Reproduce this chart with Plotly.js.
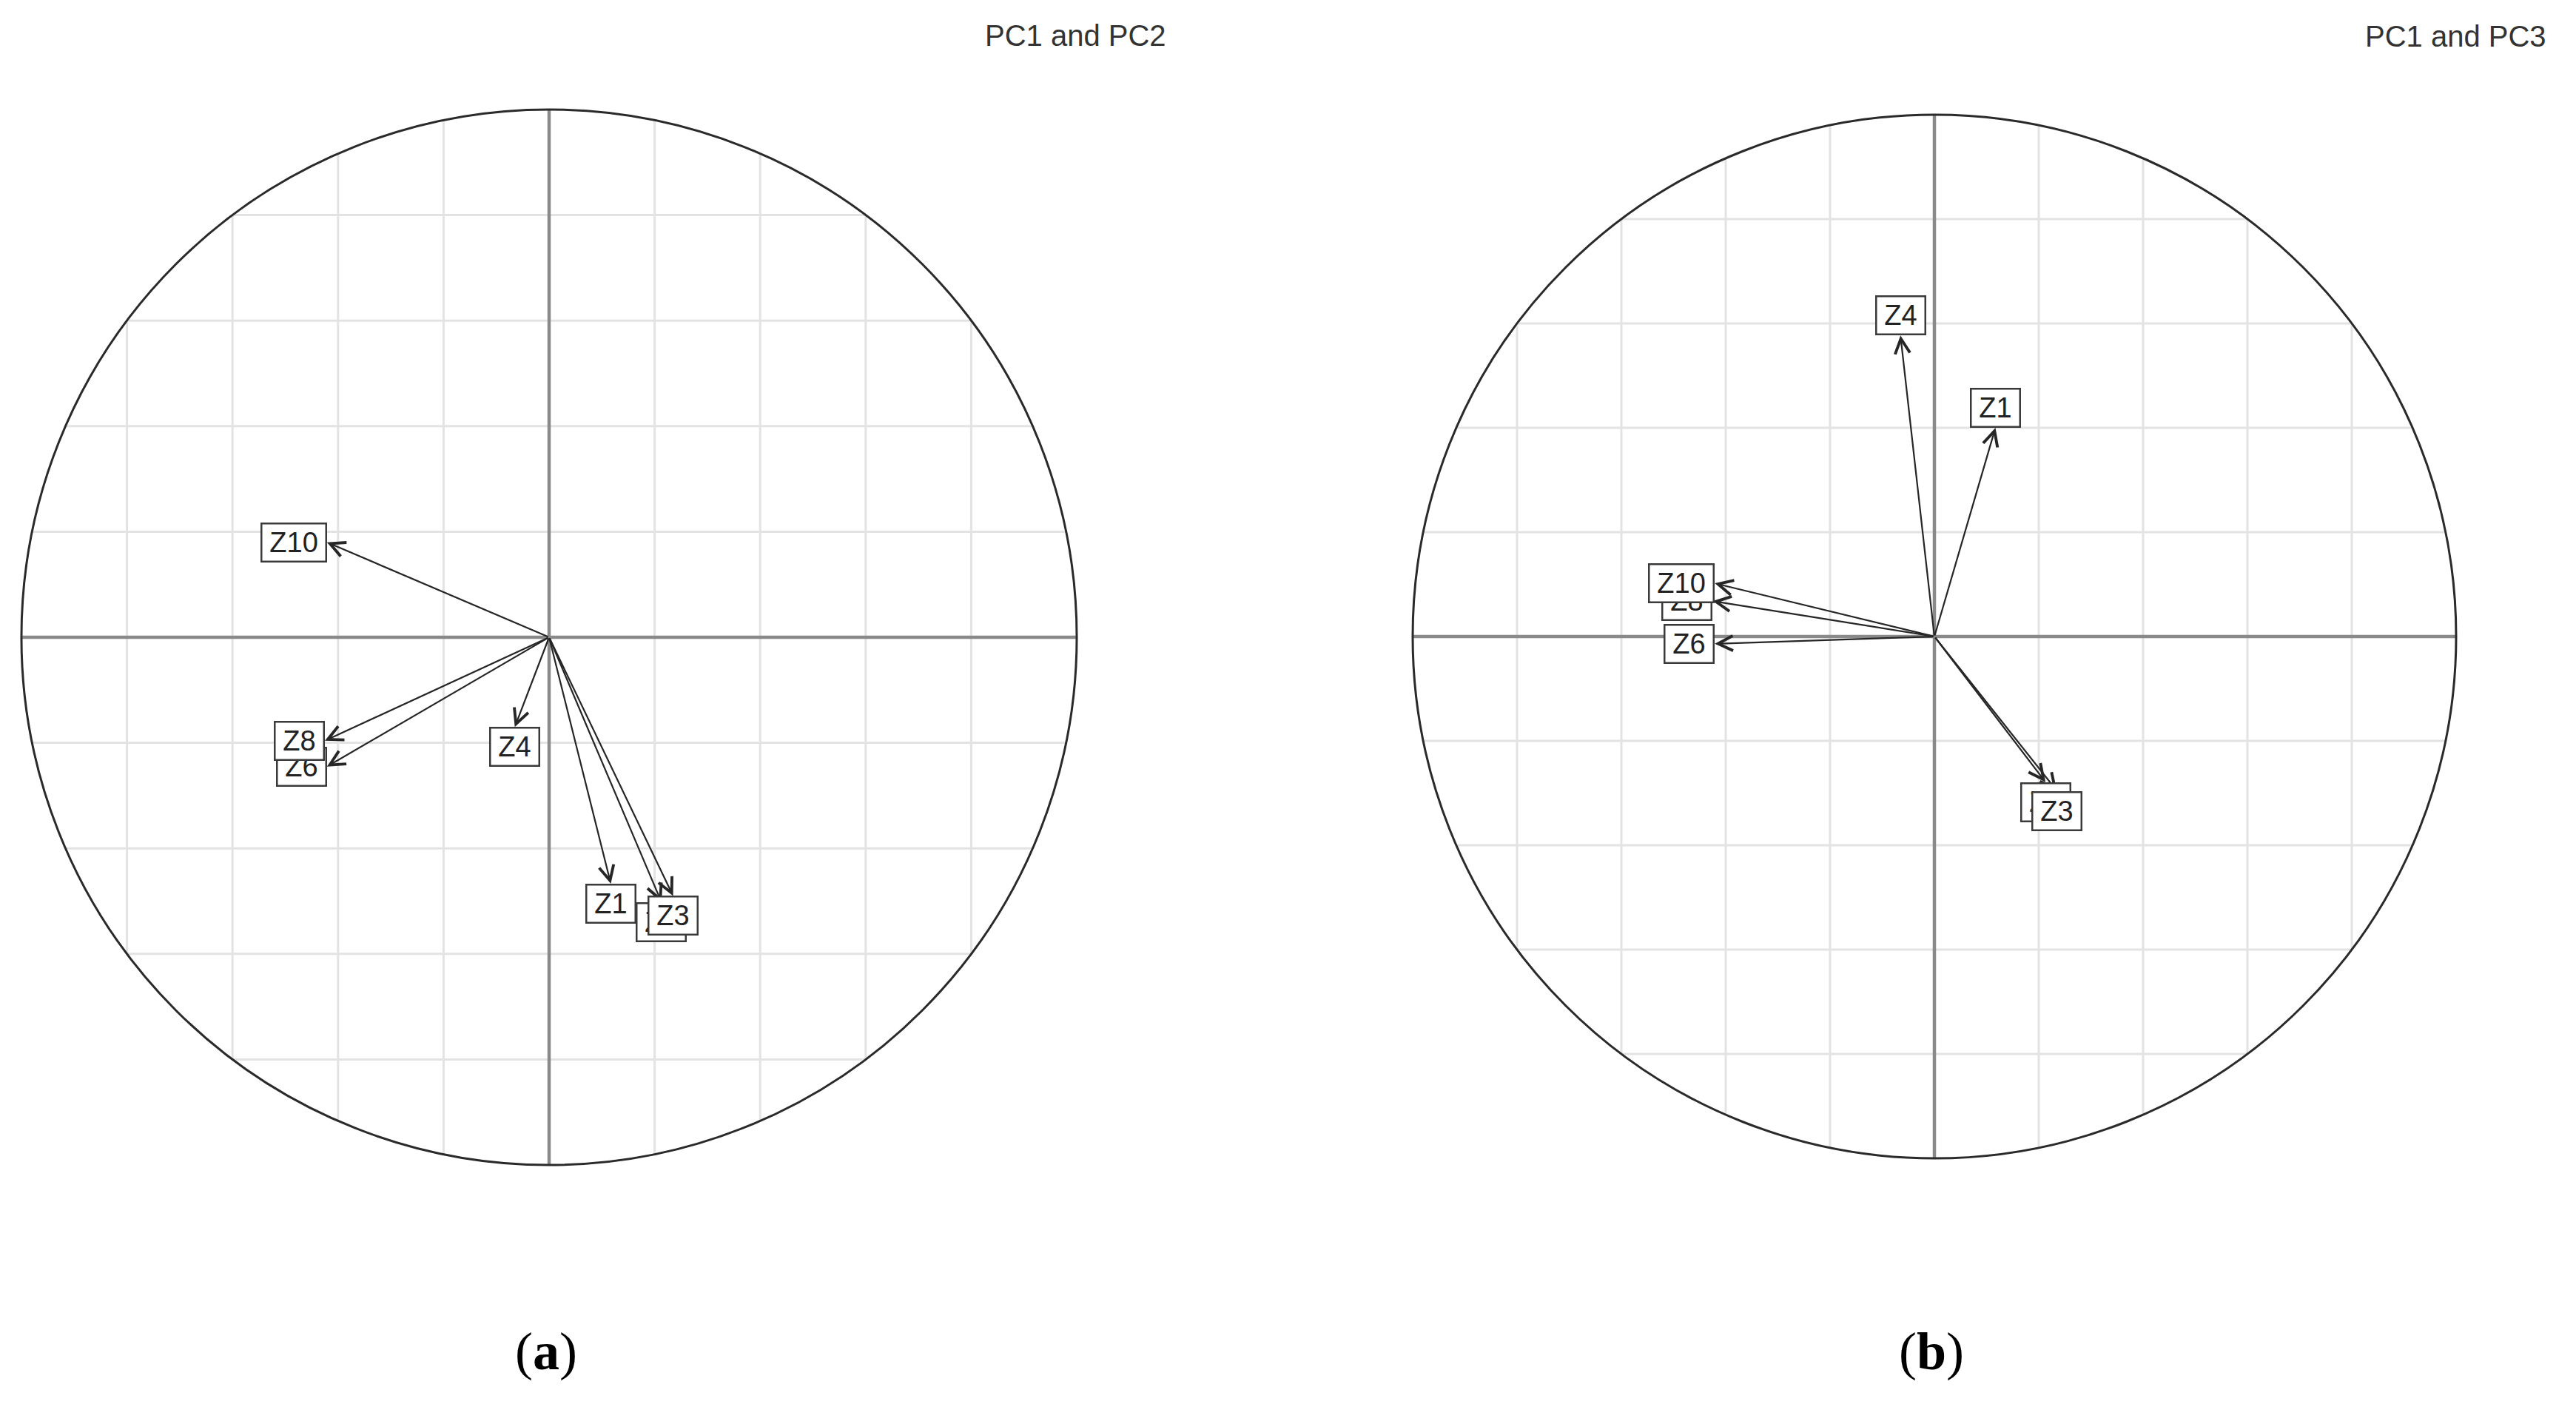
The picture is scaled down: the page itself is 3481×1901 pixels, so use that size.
<!DOCTYPE html>
<html><head><meta charset="utf-8">
<script src="https://cdn.plot.ly/plotly-3.0.1.min.js"></script>
<style>html,body{margin:0;padding:0;background:#fff;} #chart{width:3481px;height:1901px;}</style>
</head><body><div id="chart"></div>
<script>
// ---- data ----
const variables = ['Z1', 'Z2', 'Z3', 'Z4', 'Z6', 'Z8', 'Z10'];
const pc1 = [0.117, 0.213, 0.235, -0.065, -0.421, -0.425, -0.421];
const pc2 = [-0.467, -0.502, -0.490, -0.170, -0.245, -0.196, 0.180];
const pc3 = [0.400, -0.279, -0.296, 0.577, -0.014, 0.068, 0.102];
const gridValues = [-0.8, -0.6, -0.4, -0.2, 0.2, 0.4, 0.6, 0.8];
const panelTitles = ['PC1 and PC2', 'PC1 and PC3'];
const panelTags = ['a', 'b'];

// ---- styling / layout ----
const W = 3481, H = 1901;
const panels = [
  {xa: 'x', ya: 'y', xs: pc1, ys: pc2, xdom: [0.004223, 0.422091], ydom: [0.164492, 0.929669],
   titleX: 0.45332, titleY: 0.97475, tagX: 0.2120},
  {xa: 'x2', ya: 'y2', xs: pc1, ys: pc3, xdom: [0.544355, 0.957512], ydom: [0.169332, 0.925881],
   titleX: 0.98908, titleY: 0.97422, tagX: 0.7498}
];

function anchorFor(x, y) {
  if (x > y && x > -y) return {xanchor: 'left', yanchor: 'middle'};
  if (x > y && x <= -y) return {xanchor: 'center', yanchor: 'top'};
  if (x <= y && x <= -y) return {xanchor: 'right', yanchor: 'middle'};
  return {xanchor: 'center', yanchor: 'bottom'};
}

const traces = [];
const shapes = [];
const arrowAnns = [];
const labelAnns = [];
const textAnns = [];

panels.forEach((p, k) => {
  traces.push({type: 'scatter', mode: 'markers', x: p.xs, y: p.ys, xaxis: p.xa, yaxis: p.ya,
    marker: {opacity: 0, size: 1}, hoverinfo: 'skip', showlegend: false});
  // grid clipped to circle
  gridValues.forEach(v => {
    const h = Math.sqrt(1 - v * v);
    shapes.push({type: 'line', xref: p.xa, yref: p.ya, x0: v, x1: v, y0: -h, y1: h,
      line: {color: '#e3e3e3', width: 3}});
    shapes.push({type: 'line', xref: p.xa, yref: p.ya, x0: -h, x1: h, y0: v, y1: v,
      line: {color: '#e3e3e3', width: 3}});
  });
  // axes cross
  shapes.push({type: 'line', xref: p.xa, yref: p.ya, x0: -1, x1: 1, y0: 0, y1: 0,
    line: {color: '#8a8a8a', width: 4.5}});
  shapes.push({type: 'line', xref: p.xa, yref: p.ya, x0: 0, x1: 0, y0: -1, y1: 1,
    line: {color: '#8a8a8a', width: 4.5}});
  // unit circle
  shapes.push({type: 'circle', xref: p.xa, yref: p.ya, x0: -1, x1: 1, y0: -1, y1: 1,
    line: {color: '#2a2a2a', width: 3}});

  variables.forEach((name, i) => {
    const x = p.xs[i], y = p.ys[i];
    arrowAnns.push({xref: p.xa, yref: p.ya, axref: p.xa, ayref: p.ya, x: x, y: y, ax: 0, ay: 0,
      text: '', showarrow: true, arrowhead: 5, arrowsize: 1.8, arrowwidth: 2.2,
      arrowcolor: '#262626', standoff: 0, startstandoff: 0});
    const a = anchorFor(x, y);
    labelAnns.push({xref: p.xa, yref: p.ya, x: x, y: y, text: name, showarrow: false,
      xanchor: a.xanchor, yanchor: a.yanchor,
      width: 21.3 * (name.length + 1), height: 49, align: 'center', valign: 'middle',
      bgcolor: '#ffffff', bordercolor: '#3a3a3a', borderwidth: 2.5, borderpad: 0,
      font: {family: 'Liberation Sans, Arial, sans-serif', size: 38, color: '#222'}});
  });

  textAnns.push({xref: 'paper', yref: 'paper', x: p.titleX, y: p.titleY, text: panelTitles[k],
    showarrow: false, xanchor: 'right', yanchor: 'middle',
    font: {family: 'Liberation Sans, Arial, sans-serif', size: 40, color: '#333'}});
  textAnns.push({xref: 'paper', yref: 'paper', x: p.tagX, y: 0.03945,
    text: '(<b>' + panelTags[k] + '</b>)', showarrow: false, xanchor: 'center', yanchor: 'middle',
    font: {family: 'Liberation Serif, Times New Roman, serif', size: 72, color: '#000'}});
});

const axisBase = {range: [-1.02, 1.02], showgrid: false, zeroline: false, showline: false,
  showticklabels: false, ticks: '', fixedrange: true};

const layout = {
  width: W, height: H, margin: {l: 0, r: 0, t: 0, b: 0},
  paper_bgcolor: '#fff', plot_bgcolor: 'rgba(0,0,0,0)', showlegend: false,
  xaxis: Object.assign({}, axisBase, {domain: panels[0].xdom, anchor: 'y'}),
  yaxis: Object.assign({}, axisBase, {domain: panels[0].ydom, anchor: 'x'}),
  xaxis2: Object.assign({}, axisBase, {domain: panels[1].xdom, anchor: 'y2'}),
  yaxis2: Object.assign({}, axisBase, {domain: panels[1].ydom, anchor: 'x2'}),
  shapes: shapes,
  annotations: arrowAnns.concat(labelAnns, textAnns)
};

Plotly.newPlot('chart', traces, layout, {staticPlot: true, displayModeBar: false});
</script>
</body></html>
